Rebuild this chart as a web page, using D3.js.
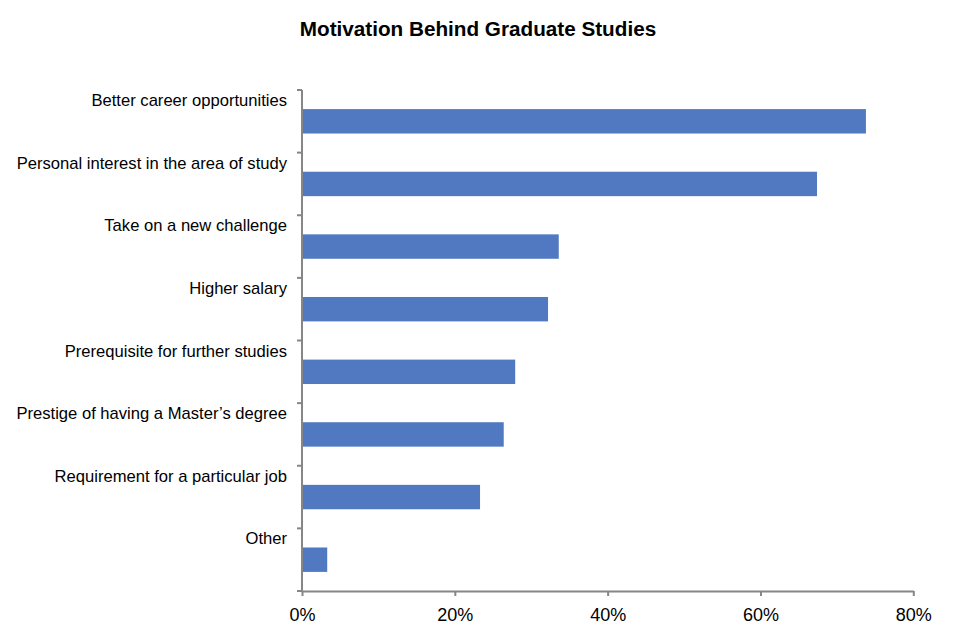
<!DOCTYPE html>
<html><head><meta charset="utf-8">
<script src="https://cdn.jsdelivr.net/npm/d3@7"></script>
<style>body{margin:0;background:#fff;} text{font-family:"Liberation Sans",Arial,sans-serif;}</style>
</head><body>
<svg id="c" width="956" height="639"></svg>
<script>
const categories = ["Better career opportunities","Personal interest in the area of study","Take on a new challenge","Higher salary","Prerequisite for further studies","Prestige of having a Master\u2019s degree","Requirement for a particular job","Other"];
const values = [0.738,0.674,0.336,0.322,0.279,0.264,0.233,0.033];
const xTicks = [0,0.2,0.4,0.6,0.8];
const title = "Motivation Behind Graduate Studies";

(function(){
const svg = d3.select("#c");
const pLeft = 302, pRight = 913.3, pTop = 90, pBottom = 591;
const x = d3.scaleLinear().domain([0,0.8]).range([pLeft,pRight]);
const y = d3.scaleBand().domain(categories).range([pTop,pBottom]).paddingInner(0.61).paddingOuter(0.305);
const yb = d3.scaleBand().domain(categories).range([pTop,pBottom]);
const axisColor = "#868686";

svg.append("text").attr("x",478).attr("y",36).attr("text-anchor","middle")
  .attr("font-size","20.7px").attr("font-weight","bold").text(title);

svg.selectAll("rect.bar").data(categories).enter().append("rect")
  .attr("x",x(0)).attr("y",d=>y(d)).attr("height",y.bandwidth())
  .attr("width",(d,i)=>x(values[i])-x(0)).attr("fill","#5079C1");

// y axis
const yAxisG = svg.append("g");
yAxisG.append("line").attr("x1",pLeft).attr("x2",pLeft).attr("y1",pTop).attr("y2",pBottom).attr("stroke",axisColor).attr("stroke-width",2);
const tickYs = categories.map(c=>yb(c)).concat([pBottom]);
yAxisG.selectAll("line.t").data(tickYs).enter().append("line")
  .attr("x1",pLeft-5).attr("x2",pLeft).attr("y1",d=>d).attr("y2",d=>d).attr("stroke",axisColor).attr("stroke-width",2);
yAxisG.selectAll("text").data(categories).enter().append("text")
  .attr("x",287).attr("y",d=>yb(d)+16).attr("text-anchor","end").attr("font-size","16.6px").attr("fill","#000").text(d=>d);

// x axis
const xAxis = d3.axisBottom(x).tickValues(xTicks).tickFormat(d3.format(".0%")).tickSize(5).tickSizeOuter(0);
const xg = svg.append("g").attr("transform",`translate(0,${pBottom})`).call(xAxis);
xg.select(".domain").attr("stroke",axisColor).attr("stroke-width",2);
xg.selectAll(".tick line").attr("stroke",axisColor).attr("stroke-width",2);
xg.selectAll(".tick text").attr("font-size","18px").attr("fill","#000").attr("dy","0").attr("y",30).attr("font-family","Liberation Sans, Arial, sans-serif");
})();
</script>
</body></html>
